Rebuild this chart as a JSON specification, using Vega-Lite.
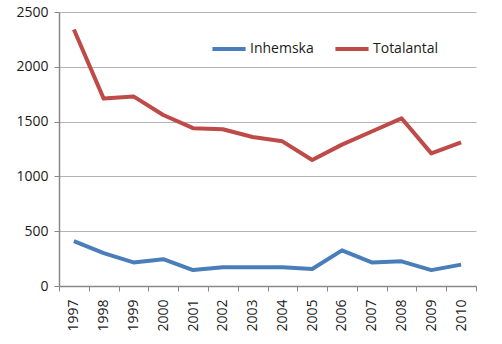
{
  "$schema": "https://vega.github.io/schema/vega-lite/v6.json",
  "width": 417,
  "height": 274,
  "autosize": {"type": "none"},
  "padding": {"left": 59, "top": 12, "right": 26, "bottom": 58},
  "background": "white",
  "data": {"values": [
    {"year": "1997", "series": "Inhemska", "value": 410},
    {"year": "1998", "series": "Inhemska", "value": 300},
    {"year": "1999", "series": "Inhemska", "value": 215},
    {"year": "2000", "series": "Inhemska", "value": 245},
    {"year": "2001", "series": "Inhemska", "value": 145},
    {"year": "2002", "series": "Inhemska", "value": 172},
    {"year": "2003", "series": "Inhemska", "value": 172},
    {"year": "2004", "series": "Inhemska", "value": 172},
    {"year": "2005", "series": "Inhemska", "value": 155},
    {"year": "2006", "series": "Inhemska", "value": 325},
    {"year": "2007", "series": "Inhemska", "value": 215},
    {"year": "2008", "series": "Inhemska", "value": 225},
    {"year": "2009", "series": "Inhemska", "value": 145},
    {"year": "2010", "series": "Inhemska", "value": 195},
    {"year": "1997", "series": "Totalantal", "value": 2340},
    {"year": "1998", "series": "Totalantal", "value": 1710},
    {"year": "1999", "series": "Totalantal", "value": 1730},
    {"year": "2000", "series": "Totalantal", "value": 1560},
    {"year": "2001", "series": "Totalantal", "value": 1440},
    {"year": "2002", "series": "Totalantal", "value": 1430},
    {"year": "2003", "series": "Totalantal", "value": 1360},
    {"year": "2004", "series": "Totalantal", "value": 1320},
    {"year": "2005", "series": "Totalantal", "value": 1150},
    {"year": "2006", "series": "Totalantal", "value": 1290},
    {"year": "2007", "series": "Totalantal", "value": 1410},
    {"year": "2008", "series": "Totalantal", "value": 1530},
    {"year": "2009", "series": "Totalantal", "value": 1210},
    {"year": "2010", "series": "Totalantal", "value": 1310}
  ]},
  "mark": {"type": "line", "strokeWidth": 4, "strokeJoin": "round"},
  "encoding": {
    "x": {
      "field": "year", "type": "ordinal", "title": null,
      "scale": {"paddingInner": 0, "paddingOuter": 0},
      "axis": {
        "labelAngle": -90, "labelAlign": "right", "labelBaseline": "middle",
        "labelFont": "Open Sans", "labelFontSize": 14, "labelColor": "#1a1a1a",
        "labelPadding": 8,
        "tickBand": "extent", "tickSize": 5, "tickColor": "#888888",
        "domainColor": "#888888", "domainWidth": 1.5, "grid": false
      }
    },
    "y": {
      "field": "value", "type": "quantitative", "title": null,
      "scale": {"domain": [0, 2500]},
      "axis": {
        "values": [0, 500, 1000, 1500, 2000, 2500], "format": "d",
        "labelFont": "Open Sans", "labelFontSize": 14, "labelColor": "#1a1a1a",
        "labelPadding": 6,
        "tickSize": 5, "tickColor": "#888888",
        "domainColor": "#888888", "domainWidth": 1.5,
        "grid": true, "gridColor": "#b3b3b3", "gridWidth": 1.2
      }
    },
    "color": {
      "field": "series", "type": "nominal", "title": null,
      "scale": {"domain": ["Inhemska", "Totalantal"], "range": ["#4a7ebb", "#be4b48"]},
      "legend": {
        "orient": "none", "legendX": 151, "legendY": 18,
        "direction": "horizontal",
        "symbolType": "stroke", "symbolSize": 1100, "symbolStrokeWidth": 4,
        "labelFont": "Open Sans", "labelFontSize": 14, "labelColor": "#1a1a1a",
        "labelOffset": 2, "columnPadding": 13
      }
    }
  },
  "config": {"view": {"stroke": null}}
}
